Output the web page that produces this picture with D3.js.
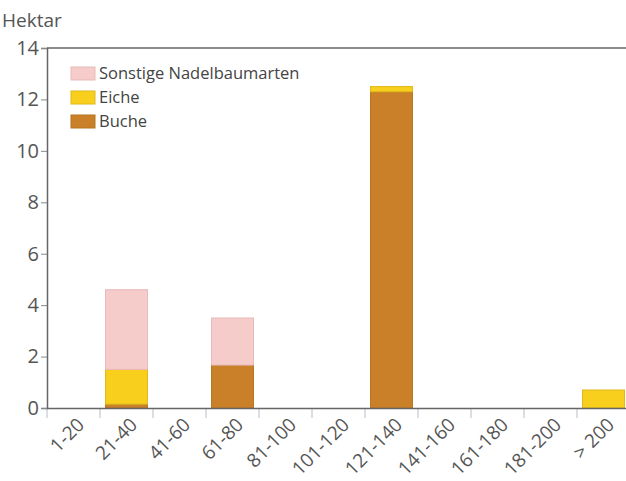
<!DOCTYPE html>
<html>
<head>
<meta charset="utf-8">
<script src="https://cdn.jsdelivr.net/npm/d3@7"></script>
<style>
  body { margin: 0; background: #fff; }
  text { font-family: "Open Sans", "DejaVu Sans", sans-serif; }
</style>
</head>
<body>
<div id="chart"></div>
<script>
var categories = ['1-20', '21-40', '41-60', '61-80', '81-100', '101-120', '121-140', '141-160', '161-180', '181-200', '> 200'];
var buche    = [0, 0.15, 0, 1.67, 0, 0, 12.3, 0, 0, 0, 0];
var eiche    = [0, 1.35, 0, 0, 0, 0, 0.2, 0, 0, 0, 0.7];
var sonstige = [0, 3.1, 0, 1.83, 0, 0, 0, 0, 0, 0, 0];
var seriesNames = ['Buche', 'Eiche', 'Sonstige Nadelbaumarten'];
var legendOrder = ['Sonstige Nadelbaumarten', 'Eiche', 'Buche'];
var yTicks = [0, 2, 4, 6, 8, 10, 12, 14];

var width = 626, height = 481;
var margin = { left: 47, top: 48, right: -4, bottom: 73 };

var colors = {
    'Buche': '#c98029',
    'Eiche': '#f8cf1c',
    'Sonstige Nadelbaumarten': '#f6cccb'
};
var strokes = {
    'Buche': '#b87420',
    'Eiche': '#e0b818',
    'Sonstige Nadelbaumarten': '#e8b9b9'
};

var rows = categories.map(function (c, i) {
    return { cat: c, 'Buche': buche[i], 'Eiche': eiche[i], 'Sonstige Nadelbaumarten': sonstige[i] };
});

var svg = d3.select('#chart').append('svg')
    .attr('width', width)
    .attr('height', height);

var x = d3.scaleBand()
    .domain(categories)
    .range([margin.left, width - margin.right])
    .paddingInner(0.19)
    .paddingOuter(0.095);

var y = d3.scaleLinear()
    .domain([0, 14])
    .range([height - margin.bottom, margin.top]);

var stack = d3.stack().keys(seriesNames);
var layers = stack(rows);

// bars
svg.selectAll('g.layer')
    .data(layers).enter()
    .append('g')
    .attr('class', 'layer')
    .attr('fill', function (d) { return colors[d.key]; })
    .attr('stroke', function (d) { return strokes[d.key]; })
    .attr('stroke-width', 1)
    .selectAll('rect')
    .data(function (d) { return d.filter(function (s) { return s[1] - s[0] > 0; }); })
    .enter()
    .append('rect')
    .attr('x', function (d) { return x(d.data.cat) + 0.5; })
    .attr('width', x.bandwidth() - 1)
    .attr('y', function (d) { return y(d[1]); })
    .attr('height', function (d) { return y(d[0]) - y(d[1]); });

// top frame line
svg.append('line')
    .attr('x1', margin.left).attr('x2', width)
    .attr('y1', y(14)).attr('y2', y(14))
    .attr('stroke', '#666').attr('stroke-width', 1.5);

// separators between categories on the x axis
var seps = categories.map(function (c) { return x(c) - x.step() * x.paddingInner() / 2; });
svg.selectAll('line.sep')
    .data(seps).enter()
    .append('line')
    .attr('class', 'sep')
    .attr('x1', function (d) { return d; })
    .attr('x2', function (d) { return d; })
    .attr('y1', y(0))
    .attr('y2', y(0) + 10)
    .attr('stroke', '#b8bccc');

// y axis
var yAxis = svg.append('g')
    .attr('transform', 'translate(' + margin.left + ',0)')
    .call(d3.axisLeft(y).tickValues(yTicks).tickSize(6).tickPadding(2));
yAxis.select('.domain').attr('stroke', '#666').attr('stroke-width', 1.5);
yAxis.selectAll('.tick line').attr('stroke', '#888');
yAxis.selectAll('.tick text')
    .attr('fill', '#555')
    .style('font-size', '20px');

// x axis
var xAxis = svg.append('g')
    .attr('transform', 'translate(0,' + y(0) + ')')
    .call(d3.axisBottom(x).tickSize(0).tickPadding(0));
xAxis.select('.domain').attr('stroke', '#666').attr('stroke-width', 1.5);
xAxis.selectAll('.tick text')
    .attr('fill', '#555')
    .style('font-size', '19px')
    .attr('text-anchor', 'end')
    .attr('y', 0)
    .attr('dy', 0)
    .attr('transform', 'translate(12,18) rotate(-45)');

// y title
svg.append('text')
    .attr('x', 2).attr('y', 27)
    .attr('fill', '#555')
    .style('font-size', '19px')
    .text('Hektar');

// legend
var legend = svg.selectAll('g.legend')
    .data(legendOrder).enter()
    .append('g')
    .attr('class', 'legend')
    .attr('transform', function (d, i) { return 'translate(71,' + (67 + i * 24) + ')'; });
legend.append('rect')
    .attr('width', 24).attr('height', 13)
    .attr('fill', function (d) { return colors[d]; })
    .attr('stroke', function (d) { return strokes[d]; });
legend.append('text')
    .attr('x', 28).attr('y', 12)
    .attr('fill', '#444')
    .style('font-size', '16.5px')
    .text(function (d) { return d; });
</script>
</body>
</html>
